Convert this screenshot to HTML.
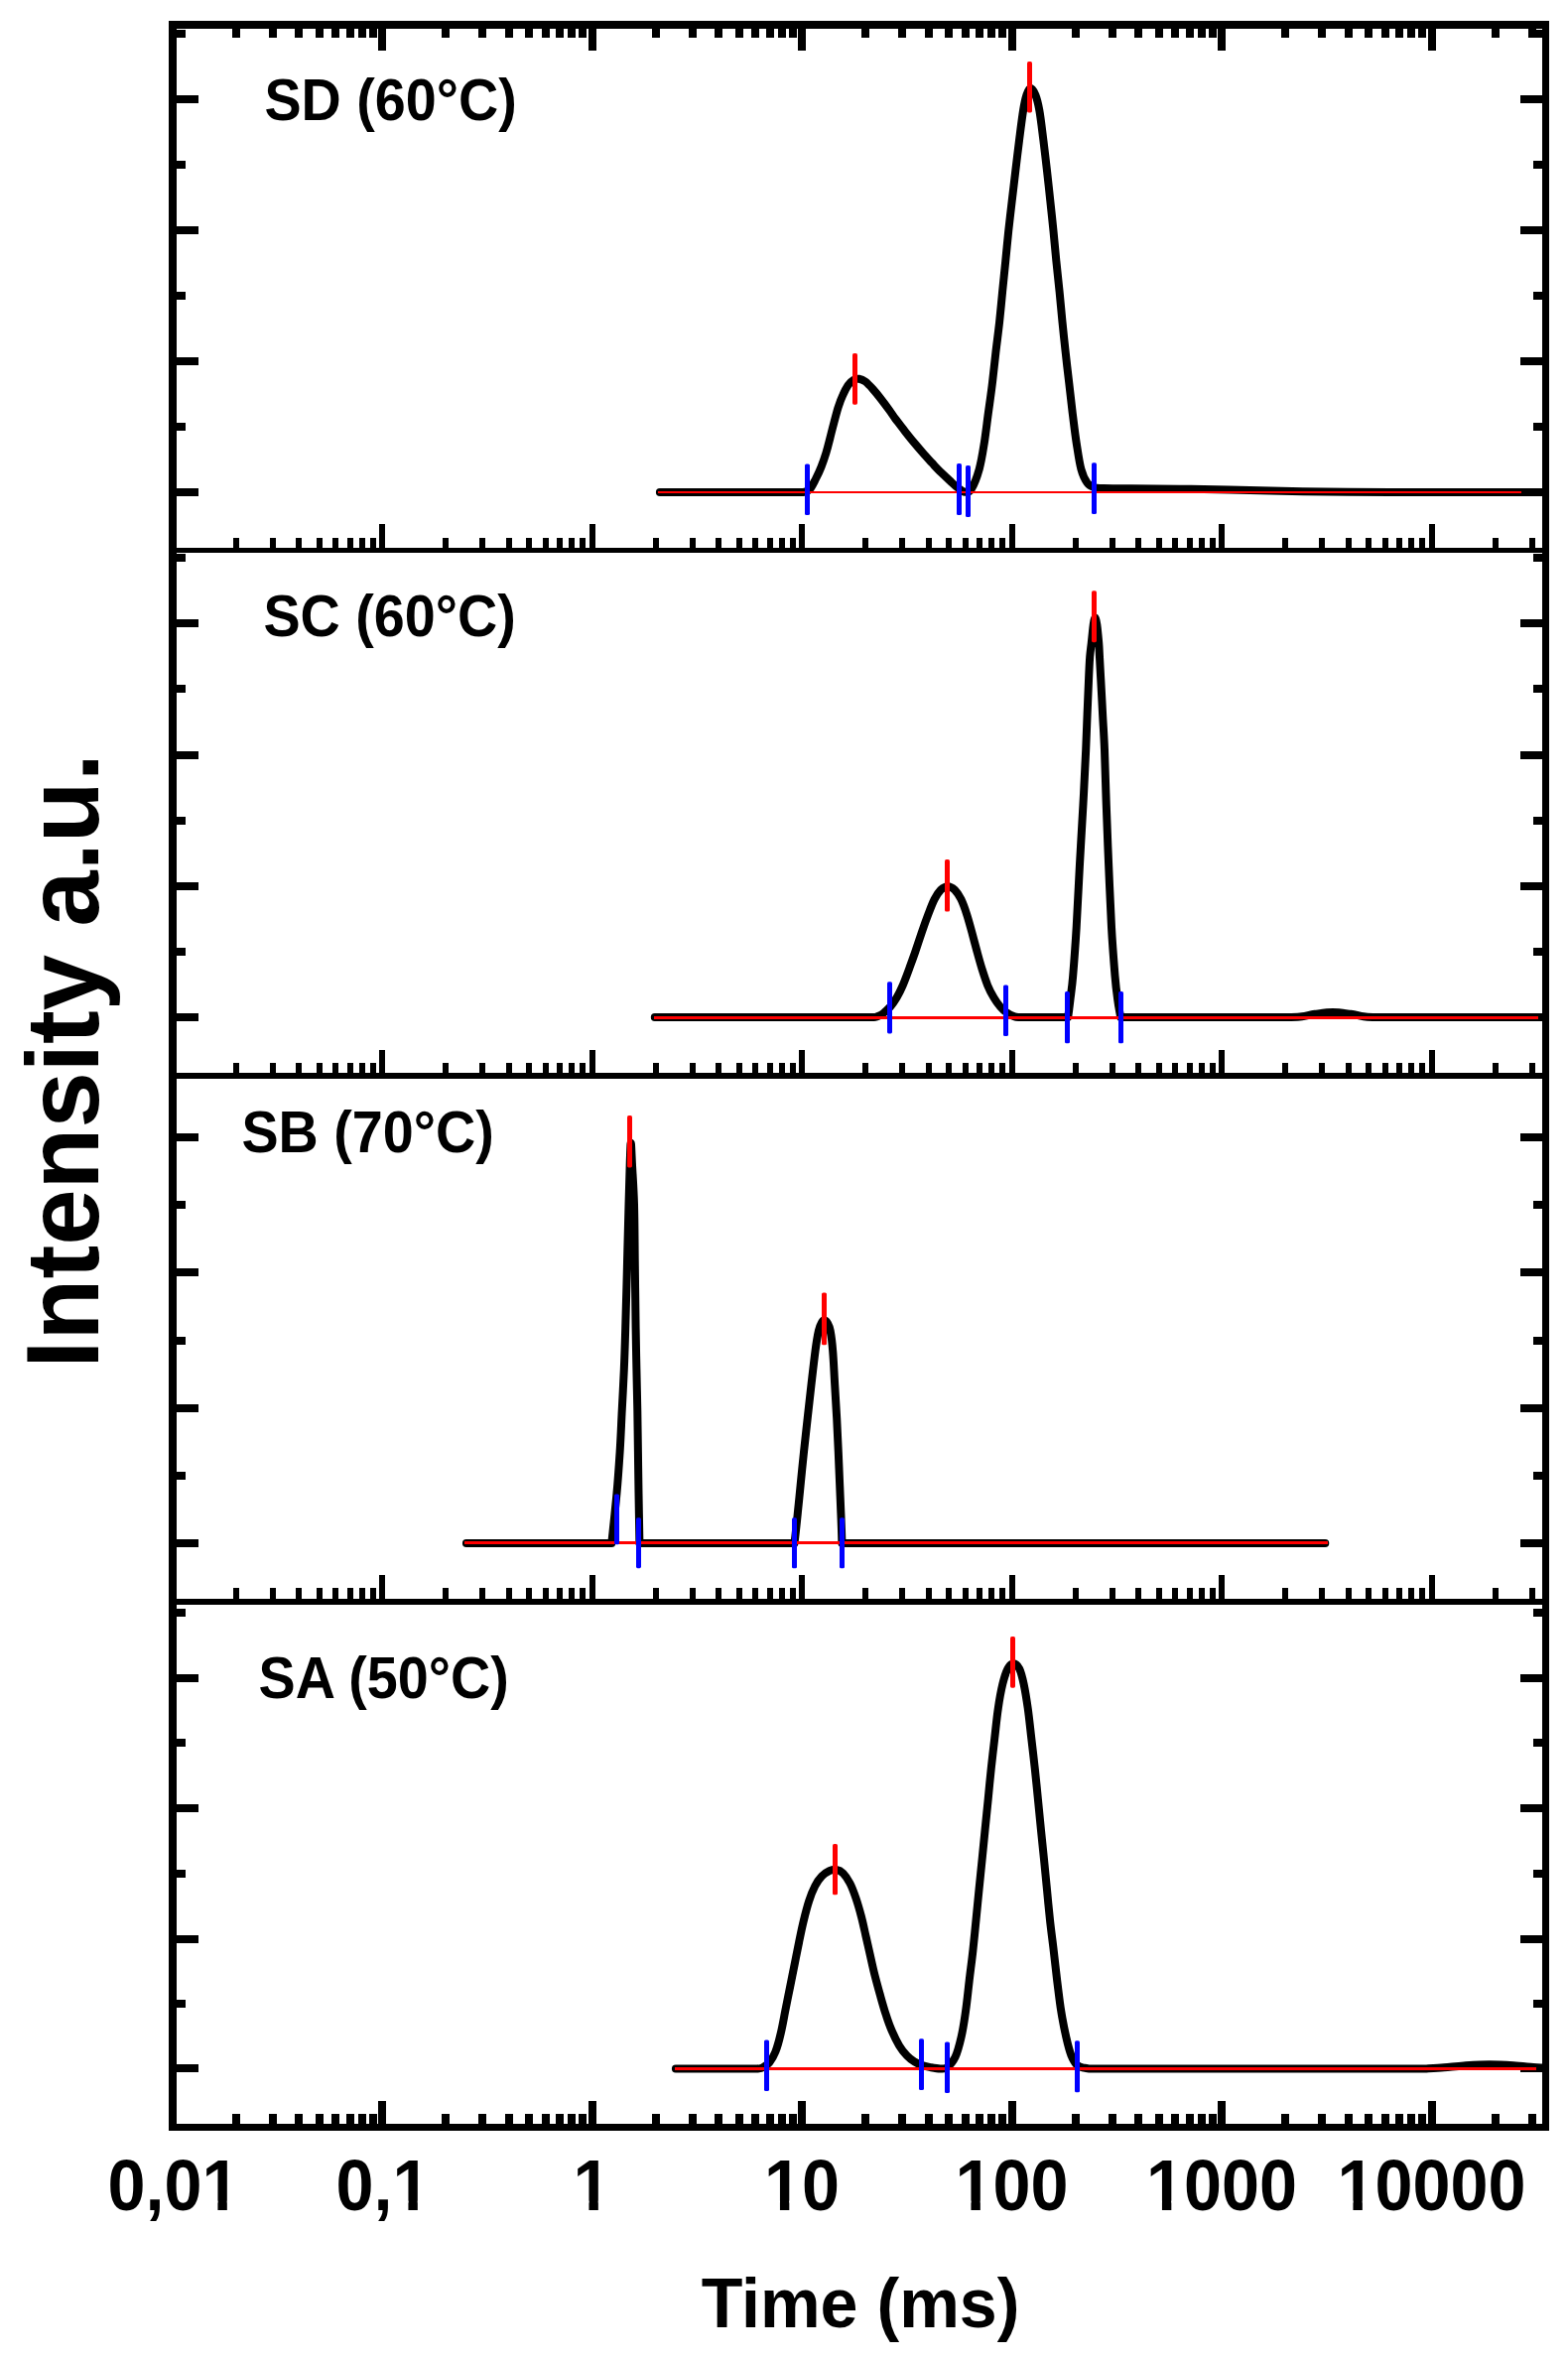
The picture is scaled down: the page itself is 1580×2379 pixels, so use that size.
<!DOCTYPE html>
<html><head><meta charset="utf-8"><title>Intensity vs Time</title>
<style>html,body{margin:0;padding:0;background:#fff}svg{display:block}</style>
</head><body>
<svg width="1580" height="2379" viewBox="0 0 1580 2379">
<rect width="1580" height="2379" fill="#fff"/>
<g fill="#000" shape-rendering="crispEdges">
<rect x="170.0" y="21.0" width="1391.0" height="8.0"/>
<rect x="170.0" y="2139.5" width="1391.0" height="7.5"/>
<rect x="170.0" y="21.0" width="8.0" height="2126.0"/>
<rect x="1554.0" y="21.0" width="7.0" height="2126.0"/>
<rect x="174" y="552.0" width="1383.0" height="5.0"/>
<rect x="174" y="1081.0" width="1383.0" height="6.0"/>
<rect x="174" y="1611.0" width="1383.0" height="6.0"/>
<rect x="178" y="95.9" width="22" height="8"/>
<rect x="1532.0" y="95.9" width="22" height="8"/>
<rect x="178" y="228.0" width="22" height="8"/>
<rect x="1532.0" y="228.0" width="22" height="8"/>
<rect x="178" y="360.2" width="22" height="8"/>
<rect x="1532.0" y="360.2" width="22" height="8"/>
<rect x="178" y="492.0" width="22" height="8"/>
<rect x="1532.0" y="492.0" width="22" height="8"/>
<rect x="178" y="29.9" width="9" height="8"/>
<rect x="1545.0" y="29.9" width="9" height="8"/>
<rect x="178" y="161.9" width="9" height="8"/>
<rect x="1545.0" y="161.9" width="9" height="8"/>
<rect x="178" y="294.1" width="9" height="8"/>
<rect x="1545.0" y="294.1" width="9" height="8"/>
<rect x="178" y="426.1" width="9" height="8"/>
<rect x="1545.0" y="426.1" width="9" height="8"/>
<rect x="178" y="623.7" width="22" height="8"/>
<rect x="1532.0" y="623.7" width="22" height="8"/>
<rect x="178" y="756.8" width="22" height="8"/>
<rect x="1532.0" y="756.8" width="22" height="8"/>
<rect x="178" y="889.0" width="22" height="8"/>
<rect x="1532.0" y="889.0" width="22" height="8"/>
<rect x="178" y="1020.9" width="22" height="8"/>
<rect x="1532.0" y="1020.9" width="22" height="8"/>
<rect x="178" y="557.5" width="9" height="8"/>
<rect x="1545.0" y="557.5" width="9" height="8"/>
<rect x="178" y="690.2" width="9" height="8"/>
<rect x="1545.0" y="690.2" width="9" height="8"/>
<rect x="178" y="822.9" width="9" height="8"/>
<rect x="1545.0" y="822.9" width="9" height="8"/>
<rect x="178" y="955.0" width="9" height="8"/>
<rect x="1545.0" y="955.0" width="9" height="8"/>
<rect x="178" y="1141.7" width="22" height="8"/>
<rect x="1532.0" y="1141.7" width="22" height="8"/>
<rect x="178" y="1278.0" width="22" height="8"/>
<rect x="1532.0" y="1278.0" width="22" height="8"/>
<rect x="178" y="1414.9" width="22" height="8"/>
<rect x="1532.0" y="1414.9" width="22" height="8"/>
<rect x="178" y="1550.9" width="22" height="8"/>
<rect x="1532.0" y="1550.9" width="22" height="8"/>
<rect x="178" y="1209.8" width="9" height="8"/>
<rect x="1545.0" y="1209.8" width="9" height="8"/>
<rect x="178" y="1346.5" width="9" height="8"/>
<rect x="1545.0" y="1346.5" width="9" height="8"/>
<rect x="178" y="1482.9" width="9" height="8"/>
<rect x="1545.0" y="1482.9" width="9" height="8"/>
<rect x="178" y="1686.7" width="22" height="8"/>
<rect x="1532.0" y="1686.7" width="22" height="8"/>
<rect x="178" y="1817.9" width="22" height="8"/>
<rect x="1532.0" y="1817.9" width="22" height="8"/>
<rect x="178" y="1949.5" width="22" height="8"/>
<rect x="1532.0" y="1949.5" width="22" height="8"/>
<rect x="178" y="2080.1" width="22" height="8"/>
<rect x="1532.0" y="2080.1" width="22" height="8"/>
<rect x="178" y="1621.2" width="9" height="8"/>
<rect x="1545.0" y="1621.2" width="9" height="8"/>
<rect x="178" y="1752.3" width="9" height="8"/>
<rect x="1545.0" y="1752.3" width="9" height="8"/>
<rect x="178" y="1883.7" width="9" height="8"/>
<rect x="1545.0" y="1883.7" width="9" height="8"/>
<rect x="178" y="2014.8" width="9" height="8"/>
<rect x="1545.0" y="2014.8" width="9" height="8"/>
<rect x="234.0" y="28.5" width="8" height="9.5"/>
<rect x="271.0" y="28.5" width="8" height="9.5"/>
<rect x="297.0" y="28.5" width="8" height="9.5"/>
<rect x="318.0" y="28.5" width="8" height="9.5"/>
<rect x="334.0" y="28.5" width="8" height="9.5"/>
<rect x="349.0" y="28.5" width="8" height="9.5"/>
<rect x="361.0" y="28.5" width="8" height="9.5"/>
<rect x="372.0" y="28.5" width="8" height="9.5"/>
<rect x="381.0" y="28.5" width="8" height="22.5"/>
<rect x="445.0" y="28.5" width="8" height="9.5"/>
<rect x="482.0" y="28.5" width="8" height="9.5"/>
<rect x="509.0" y="28.5" width="8" height="9.5"/>
<rect x="529.0" y="28.5" width="8" height="9.5"/>
<rect x="546.0" y="28.5" width="8" height="9.5"/>
<rect x="560.0" y="28.5" width="8" height="9.5"/>
<rect x="572.0" y="28.5" width="8" height="9.5"/>
<rect x="583.0" y="28.5" width="8" height="9.5"/>
<rect x="593.0" y="28.5" width="8" height="22.5"/>
<rect x="657.0" y="28.5" width="8" height="9.5"/>
<rect x="694.0" y="28.5" width="8" height="9.5"/>
<rect x="720.0" y="28.5" width="8" height="9.5"/>
<rect x="741.0" y="28.5" width="8" height="9.5"/>
<rect x="757.0" y="28.5" width="8" height="9.5"/>
<rect x="772.0" y="28.5" width="8" height="9.5"/>
<rect x="784.0" y="28.5" width="8" height="9.5"/>
<rect x="795.0" y="28.5" width="8" height="9.5"/>
<rect x="804.0" y="28.5" width="8" height="22.5"/>
<rect x="868.0" y="28.5" width="8" height="9.5"/>
<rect x="905.0" y="28.5" width="8" height="9.5"/>
<rect x="932.0" y="28.5" width="8" height="9.5"/>
<rect x="952.0" y="28.5" width="8" height="9.5"/>
<rect x="969.0" y="28.5" width="8" height="9.5"/>
<rect x="983.0" y="28.5" width="8" height="9.5"/>
<rect x="995.0" y="28.5" width="8" height="9.5"/>
<rect x="1006.0" y="28.5" width="8" height="9.5"/>
<rect x="1016.0" y="28.5" width="8" height="22.5"/>
<rect x="1080.0" y="28.5" width="8" height="9.5"/>
<rect x="1117.0" y="28.5" width="8" height="9.5"/>
<rect x="1143.0" y="28.5" width="8" height="9.5"/>
<rect x="1164.0" y="28.5" width="8" height="9.5"/>
<rect x="1180.0" y="28.5" width="8" height="9.5"/>
<rect x="1195.0" y="28.5" width="8" height="9.5"/>
<rect x="1207.0" y="28.5" width="8" height="9.5"/>
<rect x="1218.0" y="28.5" width="8" height="9.5"/>
<rect x="1227.0" y="28.5" width="8" height="22.5"/>
<rect x="1291.0" y="28.5" width="8" height="9.5"/>
<rect x="1328.0" y="28.5" width="8" height="9.5"/>
<rect x="1355.0" y="28.5" width="8" height="9.5"/>
<rect x="1375.0" y="28.5" width="8" height="9.5"/>
<rect x="1392.0" y="28.5" width="8" height="9.5"/>
<rect x="1406.0" y="28.5" width="8" height="9.5"/>
<rect x="1418.0" y="28.5" width="8" height="9.5"/>
<rect x="1429.0" y="28.5" width="8" height="9.5"/>
<rect x="1439.0" y="28.5" width="8" height="22.5"/>
<rect x="1503.0" y="28.5" width="8" height="9.5"/>
<rect x="1540.0" y="28.5" width="8" height="9.5"/>
<rect x="235.0" y="542.0" width="6" height="11.0"/>
<rect x="272.0" y="542.0" width="6" height="11.0"/>
<rect x="298.0" y="542.0" width="6" height="11.0"/>
<rect x="319.0" y="542.0" width="6" height="11.0"/>
<rect x="335.0" y="542.0" width="6" height="11.0"/>
<rect x="350.0" y="542.0" width="6" height="11.0"/>
<rect x="362.0" y="542.0" width="6" height="11.0"/>
<rect x="373.0" y="542.0" width="6" height="11.0"/>
<rect x="382.0" y="528.0" width="6" height="25.0"/>
<rect x="446.0" y="542.0" width="6" height="11.0"/>
<rect x="483.0" y="542.0" width="6" height="11.0"/>
<rect x="510.0" y="542.0" width="6" height="11.0"/>
<rect x="530.0" y="542.0" width="6" height="11.0"/>
<rect x="547.0" y="542.0" width="6" height="11.0"/>
<rect x="561.0" y="542.0" width="6" height="11.0"/>
<rect x="573.0" y="542.0" width="6" height="11.0"/>
<rect x="584.0" y="542.0" width="6" height="11.0"/>
<rect x="594.0" y="528.0" width="6" height="25.0"/>
<rect x="658.0" y="542.0" width="6" height="11.0"/>
<rect x="695.0" y="542.0" width="6" height="11.0"/>
<rect x="721.0" y="542.0" width="6" height="11.0"/>
<rect x="742.0" y="542.0" width="6" height="11.0"/>
<rect x="758.0" y="542.0" width="6" height="11.0"/>
<rect x="773.0" y="542.0" width="6" height="11.0"/>
<rect x="785.0" y="542.0" width="6" height="11.0"/>
<rect x="796.0" y="542.0" width="6" height="11.0"/>
<rect x="805.0" y="528.0" width="6" height="25.0"/>
<rect x="869.0" y="542.0" width="6" height="11.0"/>
<rect x="906.0" y="542.0" width="6" height="11.0"/>
<rect x="933.0" y="542.0" width="6" height="11.0"/>
<rect x="953.0" y="542.0" width="6" height="11.0"/>
<rect x="970.0" y="542.0" width="6" height="11.0"/>
<rect x="984.0" y="542.0" width="6" height="11.0"/>
<rect x="996.0" y="542.0" width="6" height="11.0"/>
<rect x="1007.0" y="542.0" width="6" height="11.0"/>
<rect x="1017.0" y="528.0" width="6" height="25.0"/>
<rect x="1081.0" y="542.0" width="6" height="11.0"/>
<rect x="1118.0" y="542.0" width="6" height="11.0"/>
<rect x="1144.0" y="542.0" width="6" height="11.0"/>
<rect x="1165.0" y="542.0" width="6" height="11.0"/>
<rect x="1181.0" y="542.0" width="6" height="11.0"/>
<rect x="1196.0" y="542.0" width="6" height="11.0"/>
<rect x="1208.0" y="542.0" width="6" height="11.0"/>
<rect x="1219.0" y="542.0" width="6" height="11.0"/>
<rect x="1228.0" y="528.0" width="6" height="25.0"/>
<rect x="1292.0" y="542.0" width="6" height="11.0"/>
<rect x="1329.0" y="542.0" width="6" height="11.0"/>
<rect x="1356.0" y="542.0" width="6" height="11.0"/>
<rect x="1376.0" y="542.0" width="6" height="11.0"/>
<rect x="1393.0" y="542.0" width="6" height="11.0"/>
<rect x="1407.0" y="542.0" width="6" height="11.0"/>
<rect x="1419.0" y="542.0" width="6" height="11.0"/>
<rect x="1430.0" y="542.0" width="6" height="11.0"/>
<rect x="1440.0" y="528.0" width="6" height="25.0"/>
<rect x="1504.0" y="542.0" width="6" height="11.0"/>
<rect x="1541.0" y="542.0" width="6" height="11.0"/>
<rect x="235.0" y="1071.0" width="6" height="11.0"/>
<rect x="272.0" y="1071.0" width="6" height="11.0"/>
<rect x="298.0" y="1071.0" width="6" height="11.0"/>
<rect x="319.0" y="1071.0" width="6" height="11.0"/>
<rect x="335.0" y="1071.0" width="6" height="11.0"/>
<rect x="350.0" y="1071.0" width="6" height="11.0"/>
<rect x="362.0" y="1071.0" width="6" height="11.0"/>
<rect x="373.0" y="1071.0" width="6" height="11.0"/>
<rect x="382.0" y="1058.0" width="6" height="24.0"/>
<rect x="446.0" y="1071.0" width="6" height="11.0"/>
<rect x="483.0" y="1071.0" width="6" height="11.0"/>
<rect x="510.0" y="1071.0" width="6" height="11.0"/>
<rect x="530.0" y="1071.0" width="6" height="11.0"/>
<rect x="547.0" y="1071.0" width="6" height="11.0"/>
<rect x="561.0" y="1071.0" width="6" height="11.0"/>
<rect x="573.0" y="1071.0" width="6" height="11.0"/>
<rect x="584.0" y="1071.0" width="6" height="11.0"/>
<rect x="594.0" y="1058.0" width="6" height="24.0"/>
<rect x="658.0" y="1071.0" width="6" height="11.0"/>
<rect x="695.0" y="1071.0" width="6" height="11.0"/>
<rect x="721.0" y="1071.0" width="6" height="11.0"/>
<rect x="742.0" y="1071.0" width="6" height="11.0"/>
<rect x="758.0" y="1071.0" width="6" height="11.0"/>
<rect x="773.0" y="1071.0" width="6" height="11.0"/>
<rect x="785.0" y="1071.0" width="6" height="11.0"/>
<rect x="796.0" y="1071.0" width="6" height="11.0"/>
<rect x="805.0" y="1058.0" width="6" height="24.0"/>
<rect x="869.0" y="1071.0" width="6" height="11.0"/>
<rect x="906.0" y="1071.0" width="6" height="11.0"/>
<rect x="933.0" y="1071.0" width="6" height="11.0"/>
<rect x="953.0" y="1071.0" width="6" height="11.0"/>
<rect x="970.0" y="1071.0" width="6" height="11.0"/>
<rect x="984.0" y="1071.0" width="6" height="11.0"/>
<rect x="996.0" y="1071.0" width="6" height="11.0"/>
<rect x="1007.0" y="1071.0" width="6" height="11.0"/>
<rect x="1017.0" y="1058.0" width="6" height="24.0"/>
<rect x="1081.0" y="1071.0" width="6" height="11.0"/>
<rect x="1118.0" y="1071.0" width="6" height="11.0"/>
<rect x="1144.0" y="1071.0" width="6" height="11.0"/>
<rect x="1165.0" y="1071.0" width="6" height="11.0"/>
<rect x="1181.0" y="1071.0" width="6" height="11.0"/>
<rect x="1196.0" y="1071.0" width="6" height="11.0"/>
<rect x="1208.0" y="1071.0" width="6" height="11.0"/>
<rect x="1219.0" y="1071.0" width="6" height="11.0"/>
<rect x="1228.0" y="1058.0" width="6" height="24.0"/>
<rect x="1292.0" y="1071.0" width="6" height="11.0"/>
<rect x="1329.0" y="1071.0" width="6" height="11.0"/>
<rect x="1356.0" y="1071.0" width="6" height="11.0"/>
<rect x="1376.0" y="1071.0" width="6" height="11.0"/>
<rect x="1393.0" y="1071.0" width="6" height="11.0"/>
<rect x="1407.0" y="1071.0" width="6" height="11.0"/>
<rect x="1419.0" y="1071.0" width="6" height="11.0"/>
<rect x="1430.0" y="1071.0" width="6" height="11.0"/>
<rect x="1440.0" y="1058.0" width="6" height="24.0"/>
<rect x="1504.0" y="1071.0" width="6" height="11.0"/>
<rect x="1541.0" y="1071.0" width="6" height="11.0"/>
<rect x="235.0" y="1600.0" width="6" height="12.0"/>
<rect x="272.0" y="1600.0" width="6" height="12.0"/>
<rect x="298.0" y="1600.0" width="6" height="12.0"/>
<rect x="319.0" y="1600.0" width="6" height="12.0"/>
<rect x="335.0" y="1600.0" width="6" height="12.0"/>
<rect x="350.0" y="1600.0" width="6" height="12.0"/>
<rect x="362.0" y="1600.0" width="6" height="12.0"/>
<rect x="373.0" y="1600.0" width="6" height="12.0"/>
<rect x="382.0" y="1587.0" width="6" height="25.0"/>
<rect x="446.0" y="1600.0" width="6" height="12.0"/>
<rect x="483.0" y="1600.0" width="6" height="12.0"/>
<rect x="510.0" y="1600.0" width="6" height="12.0"/>
<rect x="530.0" y="1600.0" width="6" height="12.0"/>
<rect x="547.0" y="1600.0" width="6" height="12.0"/>
<rect x="561.0" y="1600.0" width="6" height="12.0"/>
<rect x="573.0" y="1600.0" width="6" height="12.0"/>
<rect x="584.0" y="1600.0" width="6" height="12.0"/>
<rect x="594.0" y="1587.0" width="6" height="25.0"/>
<rect x="658.0" y="1600.0" width="6" height="12.0"/>
<rect x="695.0" y="1600.0" width="6" height="12.0"/>
<rect x="721.0" y="1600.0" width="6" height="12.0"/>
<rect x="742.0" y="1600.0" width="6" height="12.0"/>
<rect x="758.0" y="1600.0" width="6" height="12.0"/>
<rect x="773.0" y="1600.0" width="6" height="12.0"/>
<rect x="785.0" y="1600.0" width="6" height="12.0"/>
<rect x="796.0" y="1600.0" width="6" height="12.0"/>
<rect x="805.0" y="1587.0" width="6" height="25.0"/>
<rect x="869.0" y="1600.0" width="6" height="12.0"/>
<rect x="906.0" y="1600.0" width="6" height="12.0"/>
<rect x="933.0" y="1600.0" width="6" height="12.0"/>
<rect x="953.0" y="1600.0" width="6" height="12.0"/>
<rect x="970.0" y="1600.0" width="6" height="12.0"/>
<rect x="984.0" y="1600.0" width="6" height="12.0"/>
<rect x="996.0" y="1600.0" width="6" height="12.0"/>
<rect x="1007.0" y="1600.0" width="6" height="12.0"/>
<rect x="1017.0" y="1587.0" width="6" height="25.0"/>
<rect x="1081.0" y="1600.0" width="6" height="12.0"/>
<rect x="1118.0" y="1600.0" width="6" height="12.0"/>
<rect x="1144.0" y="1600.0" width="6" height="12.0"/>
<rect x="1165.0" y="1600.0" width="6" height="12.0"/>
<rect x="1181.0" y="1600.0" width="6" height="12.0"/>
<rect x="1196.0" y="1600.0" width="6" height="12.0"/>
<rect x="1208.0" y="1600.0" width="6" height="12.0"/>
<rect x="1219.0" y="1600.0" width="6" height="12.0"/>
<rect x="1228.0" y="1587.0" width="6" height="25.0"/>
<rect x="1292.0" y="1600.0" width="6" height="12.0"/>
<rect x="1329.0" y="1600.0" width="6" height="12.0"/>
<rect x="1356.0" y="1600.0" width="6" height="12.0"/>
<rect x="1376.0" y="1600.0" width="6" height="12.0"/>
<rect x="1393.0" y="1600.0" width="6" height="12.0"/>
<rect x="1407.0" y="1600.0" width="6" height="12.0"/>
<rect x="1419.0" y="1600.0" width="6" height="12.0"/>
<rect x="1430.0" y="1600.0" width="6" height="12.0"/>
<rect x="1440.0" y="1587.0" width="6" height="25.0"/>
<rect x="1504.0" y="1600.0" width="6" height="12.0"/>
<rect x="1541.0" y="1600.0" width="6" height="12.0"/>
<rect x="234.0" y="2130.0" width="8" height="10.5"/>
<rect x="271.0" y="2130.0" width="8" height="10.5"/>
<rect x="297.0" y="2130.0" width="8" height="10.5"/>
<rect x="318.0" y="2130.0" width="8" height="10.5"/>
<rect x="334.0" y="2130.0" width="8" height="10.5"/>
<rect x="349.0" y="2130.0" width="8" height="10.5"/>
<rect x="361.0" y="2130.0" width="8" height="10.5"/>
<rect x="372.0" y="2130.0" width="8" height="10.5"/>
<rect x="381.0" y="2117.0" width="8" height="23.5"/>
<rect x="445.0" y="2130.0" width="8" height="10.5"/>
<rect x="482.0" y="2130.0" width="8" height="10.5"/>
<rect x="509.0" y="2130.0" width="8" height="10.5"/>
<rect x="529.0" y="2130.0" width="8" height="10.5"/>
<rect x="546.0" y="2130.0" width="8" height="10.5"/>
<rect x="560.0" y="2130.0" width="8" height="10.5"/>
<rect x="572.0" y="2130.0" width="8" height="10.5"/>
<rect x="583.0" y="2130.0" width="8" height="10.5"/>
<rect x="593.0" y="2117.0" width="8" height="23.5"/>
<rect x="657.0" y="2130.0" width="8" height="10.5"/>
<rect x="694.0" y="2130.0" width="8" height="10.5"/>
<rect x="720.0" y="2130.0" width="8" height="10.5"/>
<rect x="741.0" y="2130.0" width="8" height="10.5"/>
<rect x="757.0" y="2130.0" width="8" height="10.5"/>
<rect x="772.0" y="2130.0" width="8" height="10.5"/>
<rect x="784.0" y="2130.0" width="8" height="10.5"/>
<rect x="795.0" y="2130.0" width="8" height="10.5"/>
<rect x="804.0" y="2117.0" width="8" height="23.5"/>
<rect x="868.0" y="2130.0" width="8" height="10.5"/>
<rect x="905.0" y="2130.0" width="8" height="10.5"/>
<rect x="932.0" y="2130.0" width="8" height="10.5"/>
<rect x="952.0" y="2130.0" width="8" height="10.5"/>
<rect x="969.0" y="2130.0" width="8" height="10.5"/>
<rect x="983.0" y="2130.0" width="8" height="10.5"/>
<rect x="995.0" y="2130.0" width="8" height="10.5"/>
<rect x="1006.0" y="2130.0" width="8" height="10.5"/>
<rect x="1016.0" y="2117.0" width="8" height="23.5"/>
<rect x="1080.0" y="2130.0" width="8" height="10.5"/>
<rect x="1117.0" y="2130.0" width="8" height="10.5"/>
<rect x="1143.0" y="2130.0" width="8" height="10.5"/>
<rect x="1164.0" y="2130.0" width="8" height="10.5"/>
<rect x="1180.0" y="2130.0" width="8" height="10.5"/>
<rect x="1195.0" y="2130.0" width="8" height="10.5"/>
<rect x="1207.0" y="2130.0" width="8" height="10.5"/>
<rect x="1218.0" y="2130.0" width="8" height="10.5"/>
<rect x="1227.0" y="2117.0" width="8" height="23.5"/>
<rect x="1291.0" y="2130.0" width="8" height="10.5"/>
<rect x="1328.0" y="2130.0" width="8" height="10.5"/>
<rect x="1355.0" y="2130.0" width="8" height="10.5"/>
<rect x="1375.0" y="2130.0" width="8" height="10.5"/>
<rect x="1392.0" y="2130.0" width="8" height="10.5"/>
<rect x="1406.0" y="2130.0" width="8" height="10.5"/>
<rect x="1418.0" y="2130.0" width="8" height="10.5"/>
<rect x="1429.0" y="2130.0" width="8" height="10.5"/>
<rect x="1439.0" y="2117.0" width="8" height="23.5"/>
<rect x="1503.0" y="2130.0" width="8" height="10.5"/>
<rect x="1540.0" y="2130.0" width="8" height="10.5"/>
</g>
<g fill="none" stroke="#000" stroke-width="8" stroke-linejoin="round" stroke-linecap="round">
<path d="M664.9 496.0L810.0 496.0L810.0 496.0C811.0 495.5 814.0 495.2 816.0 493.0C818.0 490.8 820.1 486.2 822.0 482.5C823.9 478.8 825.8 474.9 827.5 470.5C829.2 466.1 830.9 461.2 832.4 456.3C833.9 451.4 835.2 446.1 836.5 441.0C837.8 435.9 839.0 430.8 840.4 425.7C841.8 420.6 843.1 415.0 844.6 410.4C846.1 405.8 847.6 401.9 849.3 398.2C850.9 394.5 852.7 390.8 854.5 388.2C856.3 385.6 858.1 384.0 860.0 382.9C861.9 381.8 863.7 381.6 865.7 381.8C867.7 382.1 869.5 382.7 871.8 384.4C874.1 386.1 877.0 389.2 879.5 392.0C882.0 394.8 884.3 397.6 887.1 401.2C889.9 404.8 893.8 410.0 896.3 413.5C898.8 417.0 899.8 418.8 902.4 422.2C905.0 425.6 908.5 430.3 911.6 434.2C914.7 438.1 917.7 441.9 920.8 445.6C923.9 449.3 926.9 452.8 930.0 456.3C933.1 459.8 936.1 463.3 939.2 466.6C942.3 469.9 945.3 473.2 948.4 476.2C951.5 479.2 954.8 482.2 957.6 484.8C960.4 487.4 962.7 489.7 965.2 491.5C967.7 493.3 970.3 495.5 972.5 495.8C974.7 496.1 976.2 496.9 978.6 493.1C981.0 489.3 984.5 480.6 986.7 472.8C988.9 465.0 990.3 455.8 991.8 446.3C993.3 436.8 994.5 426.0 995.9 415.9C997.3 405.8 998.8 395.6 1000.0 385.4C1001.2 375.2 1002.2 365.1 1003.4 354.9C1004.6 344.7 1006.0 334.6 1007.1 324.4C1008.2 314.2 1009.1 304.1 1010.1 293.9C1011.1 283.7 1012.2 273.6 1013.2 263.4C1014.2 253.2 1015.1 243.1 1016.2 232.9C1017.3 222.7 1018.5 212.6 1019.7 202.4C1020.9 192.2 1022.1 182.2 1023.3 172.0C1024.5 161.8 1025.7 151.7 1027.0 141.5C1028.3 131.3 1029.8 118.7 1031.1 111.0C1032.3 103.3 1033.3 99.2 1034.5 95.5C1035.7 91.8 1036.9 89.0 1038.4 89.0C1039.9 89.0 1041.8 91.8 1043.3 95.5C1044.8 99.2 1045.9 103.3 1047.3 111.0C1048.7 118.7 1050.1 131.3 1051.4 141.5C1052.7 151.7 1053.8 161.8 1055.0 172.0C1056.2 182.2 1057.2 192.2 1058.3 202.4C1059.4 212.6 1060.5 222.7 1061.5 232.9C1062.5 243.1 1063.4 253.2 1064.4 263.4C1065.4 273.6 1066.6 283.7 1067.6 293.9C1068.6 304.1 1069.5 314.2 1070.5 324.4C1071.5 334.6 1072.6 344.7 1073.7 354.9C1074.8 365.1 1076.0 375.2 1077.2 385.4C1078.4 395.6 1079.5 405.8 1080.7 415.9C1082.0 426.0 1083.2 436.8 1084.7 446.3C1086.2 455.8 1087.6 466.1 1089.4 472.8C1091.2 479.5 1093.3 483.4 1095.5 486.5C1097.7 489.6 1099.8 490.3 1102.6 491.2C1105.3 492.1 1105.8 491.8 1112.0 492.0C1118.2 492.2 1125.3 492.1 1140.0 492.2C1154.7 492.3 1178.3 492.5 1200.0 492.8C1221.7 493.1 1247.5 493.7 1270.0 494.2C1292.5 494.7 1313.3 495.3 1335.0 495.6C1356.7 495.9 1389.2 495.9 1400.0 496.0L1400.0 496.0L1533.0 496.0"/>
<path d="M659.8 1025.0L880.0 1025.0L880.0 1025.0C880.5 1024.9 881.5 1025.2 883.0 1024.6C884.5 1024.0 887.0 1023.3 889.3 1021.6C891.6 1019.9 894.6 1017.2 897.0 1014.5C899.4 1011.8 901.3 1009.2 903.4 1005.6C905.5 1002.0 907.6 997.8 909.7 992.9C911.8 988.0 914.0 982.0 916.1 976.3C918.2 970.5 920.4 964.6 922.5 958.4C924.6 952.2 926.8 945.5 928.9 939.3C931.0 933.1 933.2 926.9 935.3 921.4C937.4 915.9 939.5 910.2 941.6 906.1C943.7 902.0 945.8 898.8 948.0 896.6C950.2 894.5 952.7 893.2 955.0 893.2C957.3 893.2 959.8 894.5 962.0 896.6C964.2 898.8 966.4 902.0 968.4 906.1C970.4 910.2 972.4 915.9 974.2 921.4C976.0 926.9 977.6 933.1 979.3 939.3C981.0 945.5 982.7 952.2 984.4 958.4C986.1 964.6 987.7 970.5 989.5 976.3C991.3 982.0 993.2 988.0 995.2 992.9C997.2 997.8 999.5 1002.0 1001.6 1005.6C1003.7 1009.2 1005.9 1012.0 1008.0 1014.5C1010.1 1017.0 1012.0 1018.7 1014.3 1020.3C1016.6 1021.9 1019.9 1023.5 1022.0 1024.3C1024.1 1025.1 1026.2 1024.9 1027.0 1025.0L1027.0 1025.0L1076.2 1025.0L1076.2 1025.0C1076.6 1022.1 1077.6 1014.9 1078.4 1007.9C1079.2 1000.9 1080.2 995.6 1081.2 983.3C1082.2 971.0 1083.6 952.6 1084.7 934.2C1085.8 915.8 1086.8 893.3 1087.9 872.8C1089.0 852.3 1090.4 830.9 1091.4 811.4C1092.5 791.9 1093.5 770.9 1094.2 755.6C1094.9 740.3 1095.1 731.6 1095.6 719.6C1096.1 707.6 1096.7 693.2 1097.1 683.6C1097.5 674.0 1097.8 668.0 1098.2 662.0C1098.7 656.0 1099.3 652.4 1099.8 647.6C1100.3 642.8 1100.9 636.9 1101.3 633.2C1101.7 629.5 1102.0 627.4 1102.4 625.6C1102.8 623.8 1103.1 622.3 1103.5 622.3C1103.9 622.3 1104.2 623.8 1104.6 625.6C1105.0 627.4 1105.4 629.5 1105.8 633.2C1106.2 636.9 1106.8 642.8 1107.2 647.6C1107.6 652.4 1107.7 656.0 1108.0 662.0C1108.3 668.0 1108.7 674.0 1109.2 683.6C1109.7 693.2 1110.5 707.6 1111.1 719.6C1111.7 731.6 1112.4 740.3 1113.0 755.6C1113.6 770.9 1114.1 791.9 1114.8 811.4C1115.5 830.9 1116.3 852.3 1117.2 872.8C1118.1 893.3 1119.0 915.8 1120.0 934.2C1121.0 952.6 1122.5 971.0 1123.5 983.3C1124.5 995.6 1125.3 1000.9 1126.3 1007.9C1127.2 1014.9 1128.7 1022.1 1129.2 1025.0L1129.2 1025.0L1300.0 1025.0L1300.0 1025.0C1302.0 1024.9 1307.8 1024.7 1312.0 1024.2C1316.2 1023.7 1319.8 1022.5 1325.0 1021.8C1330.2 1021.1 1337.0 1019.9 1343.0 1019.9C1349.0 1019.9 1355.8 1021.1 1361.0 1021.8C1366.2 1022.5 1370.2 1023.7 1374.0 1024.2C1377.8 1024.7 1382.3 1024.9 1384.0 1025.0L1384.0 1025.0L1554.0 1025.0"/>
<path d="M469.9 1555.0L616.3 1555.0L616.3 1555.0C617.2 1546.6 620.1 1519.8 621.5 1504.4C622.9 1489.1 623.7 1476.7 624.6 1462.9C625.5 1449.1 626.0 1435.2 626.7 1421.4C627.4 1407.6 628.2 1393.7 628.8 1379.9C629.4 1366.1 629.7 1355.7 630.2 1338.4C630.7 1321.1 631.4 1296.9 631.9 1276.1C632.4 1255.3 633.0 1231.1 633.5 1213.8C634.0 1196.5 634.3 1182.6 634.7 1172.3C635.1 1162.0 635.3 1151.8 635.7 1151.8C636.1 1151.8 636.4 1162.0 636.9 1172.3C637.4 1182.6 638.5 1196.5 639.0 1213.8C639.5 1231.1 639.5 1255.3 639.8 1276.1C640.1 1296.9 640.3 1321.1 640.6 1338.4C640.9 1355.7 641.1 1366.1 641.4 1379.9C641.7 1393.7 642.0 1407.6 642.3 1421.4C642.5 1435.2 642.7 1449.1 642.9 1462.9C643.1 1476.7 643.2 1489.1 643.5 1504.4C643.8 1519.8 644.2 1546.6 644.4 1555.0L644.4 1555.0L800.5 1555.0L800.5 1555.0C801.0 1551.0 802.2 1540.5 803.2 1530.8C804.2 1521.1 805.5 1508.2 806.6 1496.9C807.7 1485.6 808.8 1474.4 810.0 1463.1C811.2 1451.8 812.5 1440.5 813.7 1429.2C815.0 1417.9 816.2 1406.6 817.5 1395.3C818.8 1384.0 820.3 1370.5 821.5 1361.4C822.7 1352.4 823.8 1345.9 824.9 1341.0C826.0 1336.1 827.3 1334.0 828.3 1332.2C829.3 1330.4 829.8 1330.1 830.7 1330.2C831.6 1330.3 832.7 1331.1 833.7 1332.9C834.7 1334.7 835.8 1336.2 836.7 1341.0C837.6 1345.8 838.5 1352.4 839.2 1361.4C840.0 1370.5 840.5 1384.0 841.2 1395.3C841.9 1406.6 842.6 1417.9 843.2 1429.2C843.8 1440.5 844.3 1451.8 844.8 1463.1C845.3 1474.4 845.7 1485.6 846.2 1496.9C846.7 1508.2 847.2 1521.1 847.6 1530.8C848.0 1540.5 848.3 1551.0 848.4 1555.0L848.4 1555.0L1335.3 1555.0"/>
<path d="M680.9 2084.5L764.0 2084.5L764.0 2084.5C764.7 2084.3 766.5 2084.5 768.4 2083.4C770.3 2082.3 773.1 2080.8 775.3 2078.1C777.5 2075.4 779.5 2072.2 781.4 2067.4C783.3 2062.6 785.1 2055.9 786.7 2049.0C788.4 2042.1 789.8 2033.7 791.3 2026.0C792.8 2018.3 794.4 2010.8 795.9 2003.1C797.4 1995.4 799.0 1987.8 800.5 1980.1C802.0 1972.4 803.6 1964.5 805.1 1957.1C806.6 1949.7 808.0 1942.6 809.7 1935.7C811.4 1928.8 813.2 1921.7 815.1 1915.8C817.0 1909.9 819.0 1904.7 821.2 1900.5C823.4 1896.3 825.7 1893.1 828.1 1890.6C830.5 1888.0 833.3 1886.3 835.7 1885.2C838.1 1884.1 840.3 1883.6 842.6 1884.0C844.9 1884.4 847.2 1885.2 849.5 1887.5C851.8 1889.8 854.2 1893.3 856.4 1897.5C858.6 1901.7 860.6 1907.2 862.5 1912.8C864.4 1918.4 866.2 1924.7 867.9 1931.1C869.6 1937.5 871.0 1944.4 872.5 1951.0C874.0 1957.6 875.5 1964.3 877.0 1970.9C878.5 1977.5 879.9 1984.2 881.6 1990.8C883.3 1997.4 885.2 2004.3 887.0 2010.7C888.8 2017.1 890.5 2023.2 892.4 2029.1C894.3 2035.0 896.2 2040.6 898.5 2045.9C900.8 2051.2 903.6 2057.0 906.1 2061.2C908.6 2065.4 911.2 2068.5 913.8 2071.2C916.3 2073.9 918.8 2075.7 921.4 2077.3C924.0 2079.0 926.3 2080.1 929.1 2081.1C931.9 2082.1 935.2 2082.6 938.3 2083.2C941.4 2083.8 944.8 2084.4 947.5 2084.4C950.2 2084.4 951.9 2085.0 954.4 2083.1C956.9 2081.2 960.1 2078.0 962.5 2072.9C964.9 2067.8 966.8 2060.4 968.6 2052.6C970.4 2044.8 971.8 2035.7 973.1 2026.2C974.5 2016.7 975.5 2005.9 976.7 1995.7C977.9 1985.5 979.3 1975.4 980.4 1965.2C981.5 1955.0 982.5 1944.9 983.5 1934.7C984.5 1924.5 985.5 1914.4 986.5 1904.2C987.5 1894.0 988.6 1883.9 989.6 1873.7C990.6 1863.5 991.6 1853.5 992.6 1843.3C993.6 1833.1 994.7 1823.0 995.7 1812.8C996.7 1802.6 997.6 1792.5 998.7 1782.3C999.8 1772.1 1001.0 1762.0 1002.2 1751.8C1003.4 1741.6 1004.4 1730.4 1005.8 1721.3C1007.1 1712.2 1008.7 1703.5 1010.3 1696.9C1011.9 1690.3 1013.6 1685.0 1015.4 1681.5C1017.2 1678.0 1019.3 1676.2 1021.3 1676.2C1023.3 1676.2 1025.5 1678.0 1027.2 1681.5C1028.9 1685.0 1030.2 1690.3 1031.6 1696.9C1033.0 1703.5 1034.4 1712.2 1035.7 1721.3C1037.0 1730.4 1038.1 1741.6 1039.3 1751.8C1040.5 1762.0 1041.7 1772.1 1042.8 1782.3C1043.9 1792.5 1044.9 1802.6 1045.9 1812.8C1046.9 1823.0 1047.9 1833.1 1048.9 1843.3C1049.9 1853.5 1051.0 1863.5 1052.0 1873.7C1053.0 1883.9 1054.0 1894.0 1055.0 1904.2C1056.0 1914.4 1056.9 1924.5 1058.0 1934.7C1059.1 1944.9 1060.5 1955.0 1061.7 1965.2C1062.9 1975.4 1064.0 1985.5 1065.2 1995.7C1066.5 2005.9 1067.7 2016.7 1069.2 2026.2C1070.7 2035.7 1072.6 2045.1 1074.3 2052.6C1076.0 2060.0 1077.5 2066.2 1079.4 2070.9C1081.3 2075.6 1083.3 2078.9 1085.5 2081.0C1087.7 2083.1 1090.5 2083.1 1092.6 2083.7C1094.7 2084.3 1097.1 2084.4 1098.0 2084.5L1098.0 2084.5L1436.0 2084.5L1436.0 2084.5C1439.2 2084.3 1448.5 2083.8 1455.0 2083.3C1461.5 2082.8 1467.3 2081.9 1475.0 2081.4C1482.7 2080.9 1492.7 2080.2 1501.0 2080.2C1509.3 2080.2 1517.7 2080.7 1525.0 2081.2C1532.3 2081.7 1540.2 2082.6 1545.0 2083.0C1549.8 2083.4 1552.5 2083.5 1554.0 2083.6"/>
</g>
<g fill="#f00" shape-rendering="crispEdges">
<rect x="662.8" y="495" width="870.0" height="2"/>
<rect x="658.8" y="1024" width="891.0" height="3"/>
<rect x="467.8" y="1553" width="869.7" height="3"/>
<rect x="679.5" y="2083" width="868.5" height="3"/>
</g>
<g fill="#f00">
<rect x="859.0" y="356.0" width="5" height="51.7" rx="1.6"/>
<rect x="1035.0" y="62.1" width="5" height="51.3" rx="1.6"/>
<rect x="952.0" y="866.1" width="5" height="52.4" rx="1.6"/>
<rect x="1100.0" y="595.2" width="5" height="52.0" rx="1.6"/>
<rect x="632.0" y="1124.1" width="5" height="52.3" rx="1.6"/>
<rect x="828.0" y="1302.4" width="5" height="52.9" rx="1.6"/>
<rect x="839.0" y="1858.0" width="5" height="51.3" rx="1.6"/>
<rect x="1018.0" y="1649.1" width="5" height="51.6" rx="1.6"/>
</g>
<g fill="#00f">
<rect x="811.0" y="467.4" width="5" height="51.6" rx="1.6"/>
<rect x="964.0" y="467.0" width="5" height="52.0" rx="1.6"/>
<rect x="973.0" y="469.0" width="5" height="52.0" rx="1.6"/>
<rect x="1100.0" y="466.2" width="5" height="51.8" rx="1.6"/>
<rect x="894.0" y="989.3" width="5" height="52.1" rx="1.6"/>
<rect x="1011.0" y="992.4" width="5" height="51.6" rx="1.6"/>
<rect x="1073.0" y="999.0" width="5" height="52.3" rx="1.6"/>
<rect x="1127.0" y="999.0" width="5" height="52.3" rx="1.6"/>
<rect x="619.0" y="1505.5" width="5" height="50.8" rx="1.6"/>
<rect x="641.0" y="1529.3" width="5" height="50.9" rx="1.6"/>
<rect x="798.0" y="1529.2" width="5" height="51.1" rx="1.6"/>
<rect x="846.0" y="1529.2" width="5" height="51.1" rx="1.6"/>
<rect x="770.0" y="2055.5" width="5" height="51.6" rx="1.6"/>
<rect x="926.0" y="2054.3" width="5" height="51.7" rx="1.6"/>
<rect x="952.0" y="2057.4" width="5" height="51.6" rx="1.6"/>
<rect x="1083.0" y="2056.2" width="5" height="52.1" rx="1.6"/>
</g>
<g font-family="'Liberation Sans', sans-serif" font-weight="bold" fill="#000">
<g transform="translate(175.0,2226.8) scale(0.945,1)">
<text x="0" y="0" font-size="72.3" text-anchor="middle">0,01</text>
<rect x="31.56" y="-9.18" width="15.46" height="9.88" fill="#fff"/>
<rect x="56.94" y="-9.18" width="14.86" height="9.88" fill="#fff"/>
</g>
<g transform="translate(386.0,2226.8) scale(0.945,1)">
<text x="0" y="0" font-size="72.3" text-anchor="middle">0,1</text>
<rect x="11.46" y="-9.18" width="15.46" height="9.88" fill="#fff"/>
<rect x="36.84" y="-9.18" width="14.86" height="9.88" fill="#fff"/>
</g>
<g transform="translate(596.5,2226.8) scale(0.945,1)">
<text x="0" y="0" font-size="72.3" text-anchor="middle">1</text>
<rect x="-18.69" y="-9.18" width="15.46" height="9.88" fill="#fff"/>
<rect x="6.69" y="-9.18" width="14.86" height="9.88" fill="#fff"/>
</g>
<g transform="translate(808.0,2226.8) scale(0.945,1)">
<text x="0" y="0" font-size="72.3" text-anchor="middle">10</text>
<rect x="-38.80" y="-9.18" width="15.46" height="9.88" fill="#fff"/>
<rect x="-13.42" y="-9.18" width="14.86" height="9.88" fill="#fff"/>
</g>
<g transform="translate(1019.5,2226.8) scale(0.945,1)">
<text x="0" y="0" font-size="72.3" text-anchor="middle">100</text>
<rect x="-58.90" y="-9.18" width="15.46" height="9.88" fill="#fff"/>
<rect x="-33.52" y="-9.18" width="14.86" height="9.88" fill="#fff"/>
</g>
<g transform="translate(1231.0,2226.8) scale(0.945,1)">
<text x="0" y="0" font-size="72.3" text-anchor="middle">1000</text>
<rect x="-79.01" y="-9.18" width="15.46" height="9.88" fill="#fff"/>
<rect x="-53.62" y="-9.18" width="14.86" height="9.88" fill="#fff"/>
</g>
<g transform="translate(1442.5,2226.8) scale(0.945,1)">
<text x="0" y="0" font-size="72.3" text-anchor="middle">10000</text>
<rect x="-99.11" y="-9.18" width="15.46" height="9.88" fill="#fff"/>
<rect x="-73.73" y="-9.18" width="14.86" height="9.88" fill="#fff"/>
</g>
<text transform="translate(867,2344.9) scale(0.967,1)" font-size="70.5" text-anchor="middle">Time (ms)</text>
<text transform="translate(99,1068.9) rotate(-90) scale(0.970,1)" font-size="104.5" text-anchor="middle">Intensity a.u.</text>
<text transform="translate(393.6,120.8) scale(0.944,1)" font-size="59" text-anchor="middle">SD (60°C)</text>
<text transform="translate(392.6,640.8) scale(0.944,1)" font-size="59" text-anchor="middle">SC (60°C)</text>
<text transform="translate(370.6,1160.8) scale(0.944,1)" font-size="59" text-anchor="middle">SB (70°C)</text>
<text transform="translate(386.7,1710.8) scale(0.944,1)" font-size="59" text-anchor="middle">SA (50°C)</text>
</g>
</svg>
</body></html>
